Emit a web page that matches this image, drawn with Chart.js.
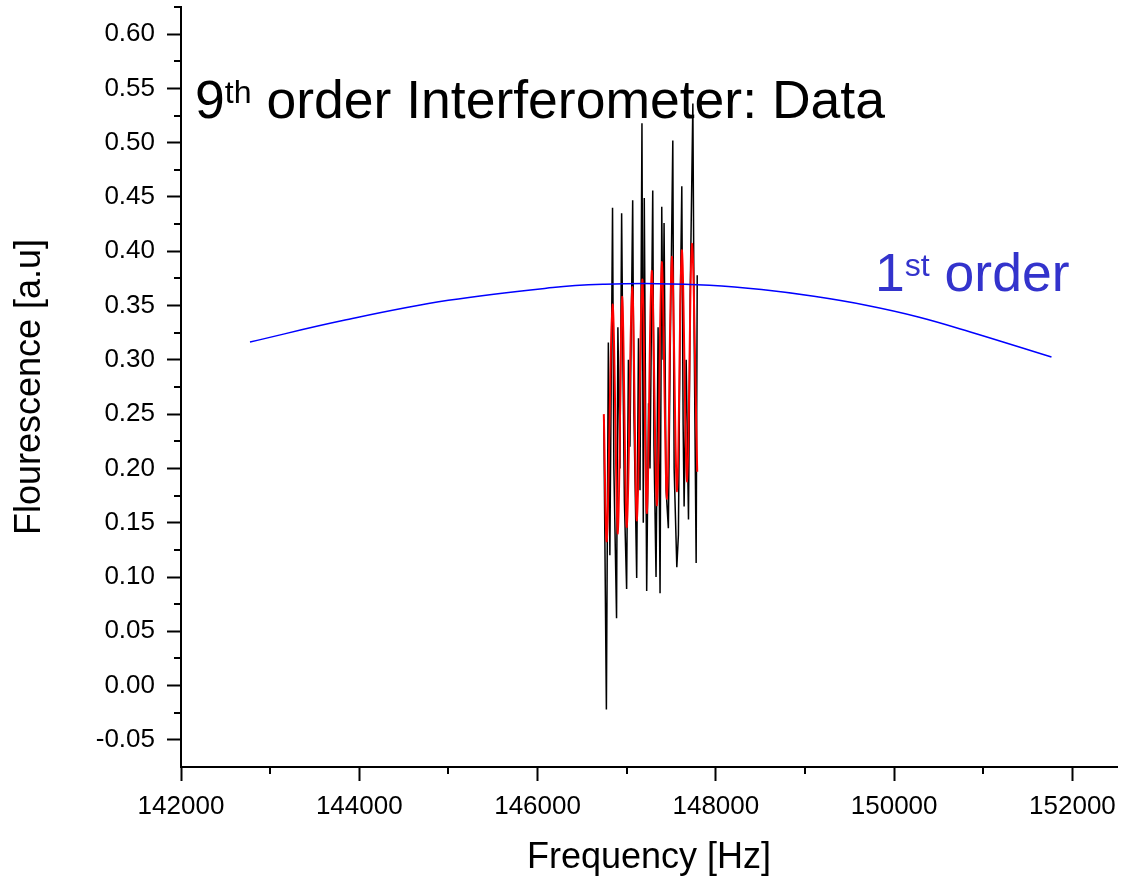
<!DOCTYPE html>
<html>
<head>
<meta charset="utf-8">
<title>9th order Interferometer: Data</title>
<script src="https://cdn.jsdelivr.net/npm/chart.js@4.4.1/dist/chart.umd.min.js"></script>
<style>
  html, body { margin: 0; padding: 0; background: #fff; }
  #wrap { position: relative; width: 1124px; height: 880px; }
  .note {
    position: absolute;
    font-family: "Liberation Sans", Arial, sans-serif;
    font-size: 53.5px;
    line-height: 1;
    white-space: nowrap;
  }
  .note sup { font-size: 0.6em; line-height: 1; vertical-align: 15px; }
</style>
</head>
<body>
<div id="wrap">
  <canvas id="chart" width="1124" height="880"></canvas>
  <div class="note" style="left:195px; top:73px; color:#000">9<sup>th</sup> order Interferometer: Data</div>
  <div class="note" style="left:875px; top:246px; color:#3333cc">1<sup>st</sup> order</div>
</div>
<script>
// measured trace (black)
const FREQ_DATA = [
  146743, 146772, 146794, 146811, 146841, 146856, 146886, 146901, 146924, 146943,
  146957, 146974, 146999, 147019, 147036, 147067, 147081, 147112, 147132, 147149,
  147171, 147186, 147197, 147224, 147245, 147261, 147292, 147306, 147329, 147352,
  147374, 147393, 147408, 147419, 147442, 147467, 147487, 147517, 147532, 147562,
  147580, 147599, 147618, 147633, 147644, 147667, 147693, 147712, 147742, 147757,
  147779, 147791,
];
const FLUOR_DATA = [
  0.245, -0.022, 0.316, 0.12, 0.44, 0.20, 0.062, 0.33, 0.20, 0.435,
  0.30, 0.17, 0.089, 0.30, 0.22, 0.447, 0.25, 0.099, 0.32, 0.18,
  0.518, 0.15, 0.449, 0.087, 0.26, 0.20, 0.456, 0.22, 0.10, 0.33,
  0.085, 0.441, 0.30, 0.426, 0.18, 0.145, 0.30, 0.502, 0.20, 0.109,
  0.139, 0.34, 0.46, 0.24, 0.165, 0.30, 0.153, 0.36, 0.536, 0.32,
  0.113, 0.378,
];

// 9th order fit (red)
const FREQ_FIT = [
  146743, 146777, 146841, 146901, 146948, 147002, 147061, 147115, 147174, 147227,
  147280, 147340, 147393, 147452, 147506, 147565, 147618, 147678, 147731, 147791,
];
const FLUOR_FIT = [
  0.25, 0.134, 0.351, 0.140, 0.358, 0.146, 0.367, 0.152, 0.374, 0.159,
  0.382, 0.166, 0.390, 0.172, 0.395, 0.179, 0.401, 0.188, 0.407, 0.197,
];

// 1st order envelope (blue)
const FREQ_ORDER1 = [
  142774, 143828, 144999, 146171, 146756, 147342, 147928, 148513, 149100, 149685,
  150271, 150855, 151765,
];
const FLUOR_ORDER1 = [
  0.3164, 0.3364, 0.3548, 0.3666, 0.3696, 0.3702, 0.3687, 0.3647, 0.3585, 0.3503,
  0.3395, 0.3257, 0.3026,
];

const X_TICKS = [142000, 144000, 146000, 148000, 150000, 152000];
const Y_TICKS = [-0.05, 0, 0.05, 0.1, 0.15, 0.2, 0.25, 0.3, 0.35, 0.4, 0.45, 0.5, 0.55, 0.6];

const X_MIN = 142000, X_MAX = 152500;
const Y_MIN = -0.075, Y_MAX = 0.625;

const FONT = '"Liberation Sans", Arial, sans-serif';
const pts = (xs, ys) => xs.map((x, i) => ({ x, y: ys[i] }));

// chart.js has no minor ticks, so draw the half-step ones here
const minorTicks = {
  id: "minorTicks",
  afterDraw(chart) {
    const { ctx, chartArea: a } = chart;
    const sx = chart.scales.x, sy = chart.scales.y;
    const dx = (X_TICKS[1] - X_TICKS[0]) / 2;
    const dy = (Y_TICKS[1] - Y_TICKS[0]) / 2;
    ctx.save();
    ctx.strokeStyle = "#000";
    ctx.lineWidth = 2;
    ctx.beginPath();
    X_TICKS.forEach((v) => {
      [v - dx, v + dx].forEach((m) => {
        if (m <= X_MIN || m > X_MAX) return;
        const px = Math.round(sx.getPixelForValue(m));
        ctx.moveTo(px, a.bottom);
        ctx.lineTo(px, a.bottom + 7);
      });
    });
    Y_TICKS.forEach((v) => {
      [v - dy, v + dy].forEach((m) => {
        if (m <= Y_MIN + 1e-9 || m > Y_MAX + 1e-9) return;
        const py = Math.round(sy.getPixelForValue(m));
        ctx.moveTo(a.left, py);
        ctx.lineTo(a.left - 7, py);
      });
    });
    ctx.stroke();
    ctx.restore();
  },
};

new Chart(document.getElementById("chart"), {
  type: "line",
  data: {
    datasets: [
      { label: "Data", data: pts(FREQ_DATA, FLUOR_DATA), borderColor: "#000", borderWidth: 1.5, pointRadius: 0, tension: 0, order: 3 },
      { label: "Fit", data: pts(FREQ_FIT, FLUOR_FIT), borderColor: "#ff0000", borderWidth: 2, pointRadius: 0, tension: 0.35, order: 2 },
      { label: "1st order", data: pts(FREQ_ORDER1, FLUOR_ORDER1), borderColor: "#0000ff", borderWidth: 1.5, pointRadius: 0, tension: 0.4, order: 1 },
    ],
  },
  options: {
    responsive: false,
    animation: false,
    layout: { padding: { top: 7, right: 7, left: 0, bottom: 0 } },
    plugins: { legend: { display: false }, tooltip: { enabled: false } },
    scales: {
      x: {
        type: "linear",
        min: X_MIN,
        max: X_MAX,
        afterBuildTicks: (s) => { s.ticks = X_TICKS.map((v) => ({ value: v })); },
        afterFit: (s) => { s.height = 113; s.paddingLeft = 0; s.paddingRight = 0; },
        ticks: {
          autoSkip: false, maxRotation: 0, padding: 10, color: "#000",
          font: { family: FONT, size: 26 },
          callback: (v) => String(v),
        },
        grid: { drawOnChartArea: false, drawTicks: true, tickLength: 14, tickWidth: 2, tickColor: "#000" },
        border: { display: true, color: "#000", width: 2 },
        title: {
          display: true, text: "Frequency [Hz]", color: "#000",
          font: { family: FONT, size: 36, lineHeight: 1.2 }, padding: { top: 0, bottom: 0 },
        },
      },
      y: {
        type: "linear",
        min: Y_MIN,
        max: Y_MAX,
        afterBuildTicks: (s) => { s.ticks = Y_TICKS.map((v) => ({ value: v })); },
        afterFit: (s) => { s.width = 181; s.paddingTop = 0; s.paddingBottom = 0; },
        ticks: {
          autoSkip: false, padding: 12, color: "#000",
          font: { family: FONT, size: 26 },
          callback: (v) => v.toFixed(2),
        },
        grid: { drawOnChartArea: false, drawTicks: true, tickLength: 14, tickWidth: 2, tickColor: "#000" },
        border: { display: true, color: "#000", width: 2 },
        title: {
          display: true, text: "Flourescence [a.u]", color: "#000",
          font: { family: FONT, size: 36, lineHeight: 1.2 }, padding: { top: 8, bottom: 0 },
        },
      },
    },
  },
  plugins: [minorTicks],
});
</script>
</body>
</html>
